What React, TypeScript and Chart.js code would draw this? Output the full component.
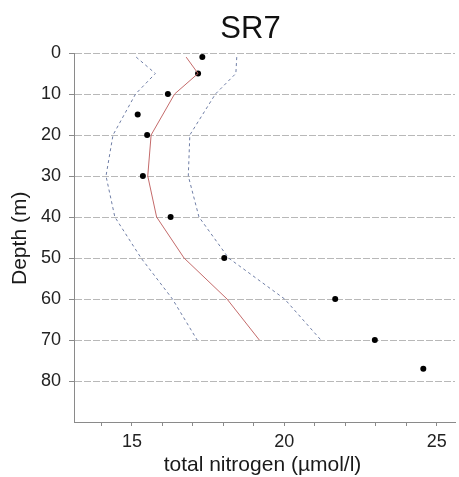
import React, { useEffect, useRef } from "react";
import { Chart, registerables } from "chart.js";

Chart.register(...registerables);

const chartTitle = "SR7";
const xTitle = "total nitrogen (µmol/l)";
const yTitle = "Depth (m)";

// observations
const obsDepth = [1, 5, 10, 15, 20, 30, 40, 50, 60, 70, 77];
const obsTN = [17.31, 17.17, 16.18, 15.19, 15.5, 15.36, 16.27, 18.03, 21.67, 22.97, 24.56];

// fitted profile and its bounds
const fitDepth = [1, 5, 10, 20, 30, 40, 50, 60, 70];
const fitTN = [16.78, 17.17, 16.4, 15.63, 15.52, 15.81, 16.71, 18.12, 19.18];
const lowerTN = [15.14, 15.77, 15.12, 14.38, 14.15, 14.44, 15.3, 16.33, 17.14];
const upperTN = [18.44, 18.41, 17.74, 16.9, 16.85, 17.2, 18.17, 20.01, 21.2];

const xTickValues = [14, 15, 16, 17, 18, 19, 20, 21, 22, 23, 24, 25];
const yTickValues = [0, 10, 20, 30, 40, 50, 60, 70, 80];

const FONT = "'Liberation Sans', Arial, Helvetica, sans-serif";

const toPoints = (xs: number[], ys: number[]) => xs.map((x, i) => ({ x, y: ys[i] }));

const textPlugin = {
  id: "customTexts",
  afterDraw(chart: any) {
    const ctx = chart.ctx;
    ctx.save();
    ctx.fillStyle = "#111";
    ctx.textAlign = "center";
    ctx.textBaseline = "alphabetic";
    ctx.font = `31px ${FONT}`;
    ctx.fillText(chartTitle, 250.5, 37.5);
    ctx.font = `21px ${FONT}`;
    ctx.fillStyle = "#1a1a1a";
    ctx.fillText(xTitle, 262.5, 470.5);
    ctx.translate(25.5, 238.3);
    ctx.rotate(-Math.PI / 2);
    ctx.fillText(yTitle, 0, 0);
    ctx.restore();
  },
};

export default function App() {
  const ref = useRef<HTMLCanvasElement>(null);

  useEffect(() => {
    if (!ref.current) return;
    const chart = new Chart(ref.current, {
      type: "scatter",
      data: {
        datasets: [
          {
            label: "lower",
            data: toPoints(lowerTN, fitDepth),
            showLine: true,
            borderColor: "#6f7ea6",
            borderWidth: 1,
            borderDash: [3, 3],
            pointRadius: 0,
            fill: false,
          },
          {
            label: "upper",
            data: toPoints(upperTN, fitDepth),
            showLine: true,
            borderColor: "#6f7ea6",
            borderWidth: 1,
            borderDash: [3, 3],
            pointRadius: 0,
            fill: false,
          },
          {
            label: "fit",
            data: toPoints(fitTN, fitDepth),
            showLine: true,
            borderColor: "#c46a6a",
            borderWidth: 1,
            pointRadius: 0,
            fill: false,
          },
          {
            label: "observed",
            data: toPoints(obsTN, obsDepth),
            showLine: false,
            pointRadius: 3,
            pointBackgroundColor: "#000",
            pointBorderColor: "#000",
            pointBorderWidth: 0,
          },
        ],
      },
      options: {
        animation: false,
        responsive: false,
        events: [],
        layout: { padding: { top: 53, left: 0, right: 0, bottom: 0 } },
        plugins: {
          legend: { display: false },
          title: { display: false },
          tooltip: { enabled: false },
        },
        scales: {
          x: {
            type: "linear",
            min: 13.1,
            max: 25.6,
            afterBuildTicks: (scale: any) => {
              scale.ticks = xTickValues.map((v) => ({ value: v }));
            },
            afterFit: (scale: any) => {
              scale.height = 55;
            },
            ticks: {
              autoSkip: false,
              maxRotation: 0,
              padding: 5,
              color: "#222",
              font: { family: FONT, size: 18 },
              callback: (v: any) => (Number(v) % 5 === 0 ? String(v) : ""),
            },
            grid: {
              display: true,
              drawOnChartArea: false,
              drawTicks: true,
              tickLength: 4,
              color: "#8a8a8a",
            },
            border: { display: true, color: "#8a8a8a", width: 1 },
          },
          y: {
            type: "linear",
            reverse: true,
            min: 0,
            max: 90,
            afterBuildTicks: (scale: any) => {
              scale.ticks = yTickValues.map((v) => ({ value: v }));
            },
            afterFit: (scale: any) => {
              scale.width = 74;
            },
            ticks: {
              autoSkip: false,
              padding: 8,
              color: "#222",
              font: { family: FONT, size: 18 },
            },
            grid: {
              display: true,
              drawOnChartArea: true,
              drawTicks: true,
              tickLength: 5,
              color: "#b8b8b8",
              tickColor: "#8a8a8a",
            },
            border: { display: true, color: "#8a8a8a", width: 1, dash: [7, 2] },
          },
        },
      },
      plugins: [textPlugin],
    } as any);
    return () => chart.destroy();
  }, []);

  return (
    <div style={{ position: "fixed", left: 0, top: 0, width: 459, height: 477, background: "#fff" }}>
      <canvas ref={ref} width={459} height={477} style={{ display: "block", width: 459, height: 477 }} />
    </div>
  );
}
